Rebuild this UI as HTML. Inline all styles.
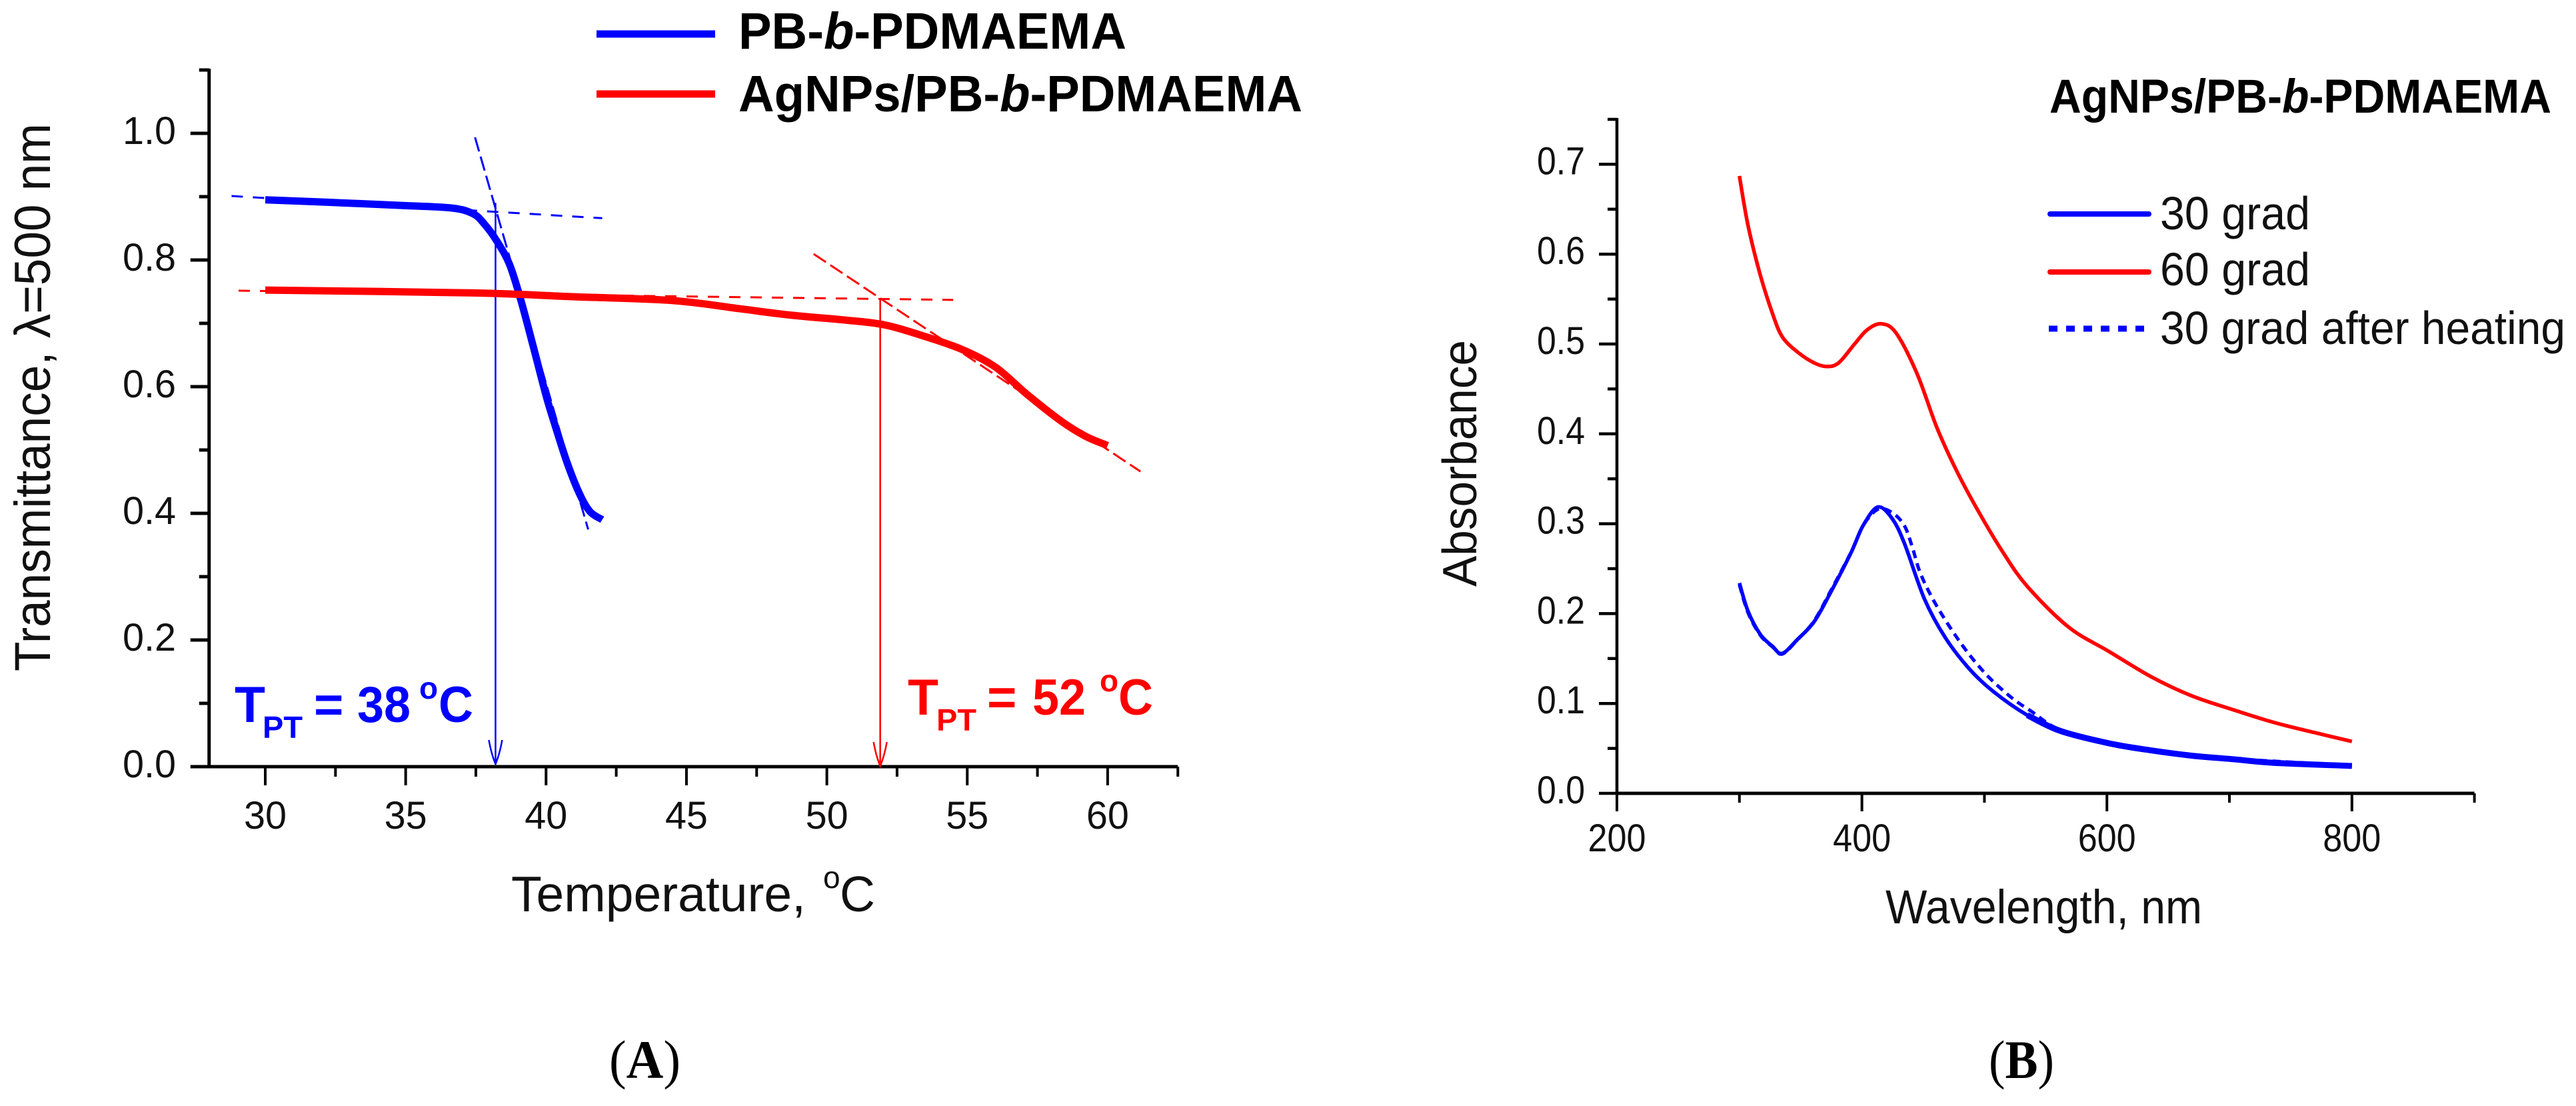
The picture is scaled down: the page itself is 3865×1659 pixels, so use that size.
<!DOCTYPE html>
<html lang="en">
<head>
<meta charset="utf-8">
<title>Transmittance and absorbance of AgNPs/PB-b-PDMAEMA</title>
<style>
html,body{margin:0;padding:0;background:#fff;}
svg{display:block;font-family:"Liberation Sans",Arial,sans-serif;}
</style>
</head>
<body>
<svg id="figure" xmlns="http://www.w3.org/2000/svg" width="3865" height="1659" viewBox="0 0 3865 1659">
  <rect x="0" y="0" width="3865" height="1659" fill="#fff"/>
  <g id="panelA"></g>
  <g id="panelB"></g>

  <text transform="translate(75,1007) rotate(-90)" font-size="76" textLength="822" lengthAdjust="spacingAndGlyphs" fill="#111">Transmittance, λ=500 nm</text>
  <text x="767" y="1367" font-size="75" textLength="442" lengthAdjust="spacingAndGlyphs" fill="#111">Temperature,</text>
  <text x="1235" y="1332" font-size="46" fill="#111">o</text>
  <text x="1260" y="1367" font-size="75" textLength="53" lengthAdjust="spacingAndGlyphs" fill="#111">C</text>

  <line x1="895" y1="51" x2="1073" y2="51" stroke="#0000ff" stroke-width="11"/>
  <text x="1108" y="73" font-size="77" font-weight="bold" textLength="582" lengthAdjust="spacingAndGlyphs" fill="#000">PB-<tspan font-style="italic">b</tspan>-PDMAEMA</text>
  <line x1="895" y1="141" x2="1073" y2="141" stroke="#ff0000" stroke-width="11"/>
  <text x="1108" y="167" font-size="77" font-weight="bold" textLength="846" lengthAdjust="spacingAndGlyphs" fill="#000">AgNPs/PB-<tspan font-style="italic">b</tspan>-PDMAEMA</text>

  <g fill="#0000ff" font-weight="bold">
    <text x="352" y="1083" font-size="76" textLength="46" lengthAdjust="spacingAndGlyphs">T</text>
    <text x="394" y="1107" font-size="46" textLength="60" lengthAdjust="spacingAndGlyphs">PT</text>
    <text x="471" y="1083" font-size="76">=</text>
    <text x="536" y="1083" font-size="76" textLength="80" lengthAdjust="spacingAndGlyphs">38</text>
    <text x="629" y="1048" font-size="46">o</text>
    <text x="658" y="1083" font-size="76" textLength="52" lengthAdjust="spacingAndGlyphs">C</text>
  </g>
  <g fill="#ff0000" font-weight="bold">
    <text x="1362" y="1072" font-size="76" textLength="46" lengthAdjust="spacingAndGlyphs">T</text>
    <text x="1405" y="1096" font-size="46" textLength="60" lengthAdjust="spacingAndGlyphs">PT</text>
    <text x="1481" y="1072" font-size="76">=</text>
    <text x="1549" y="1072" font-size="76" textLength="80" lengthAdjust="spacingAndGlyphs">52</text>
    <text x="1650" y="1037" font-size="46">o</text>
    <text x="1678" y="1072" font-size="76" textLength="52" lengthAdjust="spacingAndGlyphs">C</text>
  </g>

  <text x="914" y="1617" font-size="82" textLength="107" lengthAdjust="spacingAndGlyphs" style="font-family:'Liberation Serif',serif">(<tspan font-weight="bold">A</tspan>)</text>
  <text x="2984" y="1617" font-size="82" textLength="98" lengthAdjust="spacingAndGlyphs" style="font-family:'Liberation Serif',serif">(<tspan font-weight="bold">B</tspan>)</text>

  <text transform="translate(2215,880) rotate(-90)" font-size="72" textLength="370" lengthAdjust="spacingAndGlyphs" fill="#111">Absorbance</text>
  <text x="2829" y="1385" font-size="71" textLength="475" lengthAdjust="spacingAndGlyphs" fill="#111">Wavelength, nm</text>
  <text x="3075" y="169" font-size="71" font-weight="bold" textLength="753" lengthAdjust="spacingAndGlyphs" fill="#000">AgNPs/PB-<tspan font-style="italic">b</tspan>-PDMAEMA</text>

  <line x1="3076" y1="321" x2="3224" y2="321" stroke="#0000ff" stroke-width="8" stroke-linecap="round"/>
  <text x="3241" y="344" font-size="70" textLength="225" lengthAdjust="spacingAndGlyphs" fill="#111">30 grad</text>
  <line x1="3076" y1="408" x2="3224" y2="408" stroke="#ff0000" stroke-width="8" stroke-linecap="round"/>
  <text x="3241" y="428" font-size="70" textLength="225" lengthAdjust="spacingAndGlyphs" fill="#111">60 grad</text>
  <line x1="3074" y1="493" x2="3217" y2="493" stroke="#0000ff" stroke-width="9" stroke-dasharray="13 13"/>
  <text x="3241" y="516" font-size="70" textLength="608" lengthAdjust="spacingAndGlyphs" fill="#111">30 grad after heating</text>

<script>
// ---------- Panel A data ----------
var aXTicks = [30, 35, 40, 45, 50, 55, 60];
var aXMinor = [32.5, 37.5, 42.5, 47.5, 52.5, 57.5, 62.5];
var aYTicks = [0.0, 0.2, 0.4, 0.6, 0.8, 1.0];
var aYMinor = [0.1, 0.3, 0.5, 0.7, 0.9, 1.1];
var pbTemp = [30, 32.3, 34.9, 36.65, 37.4, 37.8, 38.26, 38.7, 39.1, 39.57, 40.0, 40.3, 40.75, 41.2, 41.57, 42];
var pbTrans = [0.895, 0.891, 0.886, 0.882, 0.873, 0.857, 0.829, 0.793, 0.737, 0.659, 0.586, 0.542, 0.48, 0.43, 0.4025, 0.39];
var agTemp = [30, 37.4, 41, 44.5, 46.9, 48.7, 50.7, 52, 53.3, 54.8, 56, 57.1, 58.3, 59.2, 60];
var agTrans = [0.7525, 0.748, 0.742, 0.736, 0.723, 0.713, 0.705, 0.698, 0.682, 0.659, 0.631, 0.589, 0.547, 0.522, 0.507];
var pbFlatTangentT = [28.8, 42];
var pbFlatTangentV = [0.901, 0.866];
var pbSteepTangentT = [37.47, 41.5];
var pbSteepTangentV = [0.9937, 0.3745];
var agFlatTangentT = [29.05, 54.5];
var agFlatTangentV = [0.7516, 0.737];
var agSteepTangentT = [49.53, 61.17];
var agSteepTangentV = [0.8095, 0.466];
var pbTransitionT = 38.2;
var pbTransitionV = 0.89;
var agTransitionT = 51.9;
var agTransitionV = 0.737;

// ---------- Panel B data ----------
var bXTicks = [200, 400, 600, 800];
var bXMinor = [300, 500, 700, 900];
var bYTicks = [0.0, 0.1, 0.2, 0.3, 0.4, 0.5, 0.6, 0.7];
var bYMinor = [0.05, 0.15, 0.25, 0.35, 0.45, 0.55, 0.65, 0.75];
var hotWave = [300, 307, 317, 327, 335, 347.5, 361, 371, 381, 394, 404.5, 416, 428, 445, 461.5, 478, 495, 515, 535, 568.7, 602, 635.8, 669, 703, 736, 770, 800];
var hotAbs = [0.687, 0.632, 0.577, 0.534, 0.508, 0.491, 0.479, 0.475, 0.479, 0.5, 0.516, 0.5225, 0.512, 0.467, 0.406, 0.357, 0.314, 0.2685, 0.2303, 0.185, 0.1576, 0.13, 0.1086, 0.093, 0.079, 0.0674, 0.0577];
var coldWave = [300, 307, 317, 327, 335, 347.5, 361, 374, 391, 401, 413, 424.6, 434.6, 451, 468, 488, 508, 535, 562, 602, 636, 669, 703, 736, 800];
var coldAbs = [0.234, 0.2027, 0.177, 0.1636, 0.1557, 0.1714, 0.191, 0.2224, 0.2675, 0.298, 0.3186, 0.3059, 0.2785, 0.2165, 0.1734, 0.138, 0.1125, 0.087, 0.0694, 0.0556, 0.0478, 0.0419, 0.038, 0.034, 0.0305];
var afterWave = [300, 307, 317, 327, 335, 347.5, 361, 374, 391, 401, 413, 424.6, 434.6, 441, 448, 461, 481.6, 501.7, 522, 538.6, 562, 602, 669, 800];
var afterAbs = [0.232, 0.201, 0.176, 0.163, 0.155, 0.171, 0.192, 0.224, 0.268, 0.298, 0.316, 0.3125, 0.298, 0.2745, 0.244, 0.2087, 0.1654, 0.132, 0.1067, 0.091, 0.0705, 0.057, 0.042, 0.031];
var noisyTailFrom = 535;

// ---------- Axis functions ----------
function ax(t){ return 398 + (t - 30) * 42.13; }
function ay(v){ return 1150 - v * 950; }
function bx(w){ return 2426 + (w - 200) * 1.838; }
function by(v){ return 1190 - v * 1348; }

var NS = 'http://www.w3.org/2000/svg';
function make(parent, tag, attrs){
  var el = document.createElementNS(NS, tag);
  for (var k in attrs) el.setAttribute(k, attrs[k]);
  parent.appendChild(el);
  return el;
}
function smoothPath(xs, ys, fx, fy){
  var p = xs.map(function(x, i){ return [fx(x), fy(ys[i])]; });
  var d = 'M' + p[0][0].toFixed(1) + ' ' + p[0][1].toFixed(1);
  for (var i = 0; i < p.length - 1; i++){
    var p0 = p[Math.max(i - 1, 0)], p1 = p[i], p2 = p[i + 1], p3 = p[Math.min(i + 2, p.length - 1)];
    var c1x = p1[0] + (p2[0] - p0[0]) / 6, c1y = p1[1] + (p2[1] - p0[1]) / 6;
    var c2x = p2[0] - (p3[0] - p1[0]) / 6, c2y = p2[1] - (p3[1] - p1[1]) / 6;
    d += 'C' + c1x.toFixed(1) + ' ' + c1y.toFixed(1) + ' ' + c2x.toFixed(1) + ' ' + c2y.toFixed(1) + ' ' + p2[0].toFixed(1) + ' ' + p2[1].toFixed(1);
  }
  return d;
}
function drawSeries(parent, name, xs, ys, fx, fy, color, width, dash){
  var el = make(parent, 'path', {d: smoothPath(xs, ys, fx, fy), fill: 'none', stroke: color, 'stroke-width': width, 'stroke-linejoin': 'round'});
  if (dash) el.setAttribute('stroke-dasharray', dash);
  
  
  return el;
}
function tailOf(xs, ys, from){
  var keep = xs.map(function(x, i){ return x >= from ? i : -1; }).filter(function(i){ return i >= 0; });
  return {x: keep.map(function(i){ return xs[i]; }), y: keep.map(function(i){ return ys[i]; })};
}
function drawTangent(parent, name, ts, vs, color, dash){
  var el = make(parent, 'line', {x1: ax(ts[0]), y1: ay(vs[0]), x2: ax(ts[1]), y2: ay(vs[1]), stroke: color, 'stroke-width': 3, 'stroke-dasharray': dash});
  
  
}
function drawArrow(parent, name, t, v, color, bottom){
  var g = make(parent, 'g', {fill: 'none', stroke: color, 'stroke-width': 2.5});
  
  
  var x = ax(t);
  make(g, 'line', {x1: x, y1: ay(v), x2: x, y2: bottom});
  make(g, 'path', {d: 'M' + (x - 10) + ' ' + (bottom - 36) + 'Q' + (x - 6) + ' ' + (bottom - 14) + ' ' + x + ' ' + bottom + 'Q' + (x + 6) + ' ' + (bottom - 14) + ' ' + (x + 10) + ' ' + (bottom - 36)});
}
function drawAxes(parent, cfg){
  var g = make(parent, 'g', {stroke: '#000', fill: 'none'});
  
  
  var yLine = make(g, 'line', {x1: cfg.x0, y1: cfg.top - 2, x2: cfg.x0, y2: cfg.y0 + 2, 'stroke-width': cfg.lineW});
  
  
  var xLine = make(g, 'line', {x1: cfg.x0, y1: cfg.y0, x2: cfg.right, y2: cfg.y0, 'stroke-width': 5});
  
  
  cfg.xTicks.forEach(function(t){
    var tick = make(g, 'line', {x1: cfg.fx(t), y1: cfg.y0, x2: cfg.fx(t), y2: cfg.y0 + cfg.major, 'stroke-width': 4});
    
    
    var label = make(parent, 'text', {x: cfg.fx(t), y: cfg.xBase, 'text-anchor': 'middle', 'font-size': cfg.fs, fill: '#111', textLength: String(t).length * cfg.digit, lengthAdjust: 'spacingAndGlyphs'});
    label.textContent = String(t);
    
    
  });
  cfg.xMinor.forEach(function(t){
    var tick = make(g, 'line', {x1: cfg.fx(t), y1: cfg.y0, x2: cfg.fx(t), y2: cfg.y0 + cfg.minor, 'stroke-width': 4});
    
    
  });
  cfg.yTicks.forEach(function(v){
    var tick = make(g, 'line', {x1: cfg.x0 - cfg.major, y1: cfg.fy(v), x2: cfg.x0, y2: cfg.fy(v), 'stroke-width': cfg.lineW});
    
    
    var label = make(parent, 'text', {x: cfg.yRight, y: cfg.fy(v) + cfg.yShift, 'text-anchor': 'end', 'font-size': cfg.fs, fill: '#111', textLength: cfg.yLabelW, lengthAdjust: 'spacingAndGlyphs'});
    label.textContent = v.toFixed(1);
    
    
  });
  cfg.yMinor.forEach(function(v){
    var tick = make(g, 'line', {x1: cfg.x0 - cfg.minor, y1: cfg.fy(v), x2: cfg.x0, y2: cfg.fy(v), 'stroke-width': cfg.lineW});
    
    
  });
}

// ---------- Panel A ----------
var A = document.getElementById('panelA');
drawAxes(A, {prefix: 'panel-a', x0: ax(28), y0: ay(0), top: ay(1.1), right: ax(62.5), fx: ax, fy: ay,
  xTicks: aXTicks, xMinor: aXMinor, yTicks: aYTicks, yMinor: aYMinor,
  major: 28, minor: 15, lineW: 5, fs: 58, digit: 32, yLabelW: 80, yRight: 264, yShift: 16, xBase: 1243});
drawTangent(A, 'tangent-pb-plateau', pbFlatTangentT, pbFlatTangentV, '#0000ff', '17 15');
drawTangent(A, 'tangent-pb-slope', pbSteepTangentT, pbSteepTangentV, '#0000ff', '22 8');
drawTangent(A, 'tangent-agnps-plateau', agFlatTangentT, agFlatTangentV, '#ff0000', '17 15');
drawTangent(A, 'tangent-agnps-slope', agSteepTangentT, agSteepTangentV, '#ff0000', '22 8');
drawArrow(A, 'arrow-tpt-38', pbTransitionT, pbTransitionV, '#0000ff', 1146);
drawArrow(A, 'arrow-tpt-52', agTransitionT, agTransitionV, '#ff0000', 1149);
drawSeries(A, 'series-pb-b-pdmaema', pbTemp, pbTrans, ax, ay, '#0000ff', 11);
drawSeries(A, 'series-agnps-pb-b-pdmaema', agTemp, agTrans, ax, ay, '#ff0000', 11);

// ---------- Panel B ----------
var B = document.getElementById('panelB');
drawAxes(B, {prefix: 'panel-b', x0: bx(200), y0: by(0), top: by(0.75), right: bx(900), fx: bx, fy: by,
  xTicks: bXTicks, xMinor: bXMinor, yTicks: bYTicks, yMinor: bYMinor,
  major: 27, minor: 14, lineW: 4.5, fs: 58, digit: 29, yLabelW: 72, yRight: 2378, yShift: 15, xBase: 1277});
drawSeries(B, 'series-60-grad', hotWave, hotAbs, bx, by, '#ff0000', 5.5);
drawSeries(B, 'series-30-grad-after-heating', afterWave, afterAbs, bx, by, '#0000ff', 5, '12 8');
drawSeries(B, 'series-30-grad', coldWave, coldAbs, bx, by, '#0000ff', 5.5);
var coldTail = tailOf(coldWave, coldAbs, noisyTailFrom);
drawSeries(B, 'series-30-grad-noisy-tail', coldTail.x, coldTail.y, bx, by, '#0000ff', 9);
</script>
</svg>
</body>
</html>
